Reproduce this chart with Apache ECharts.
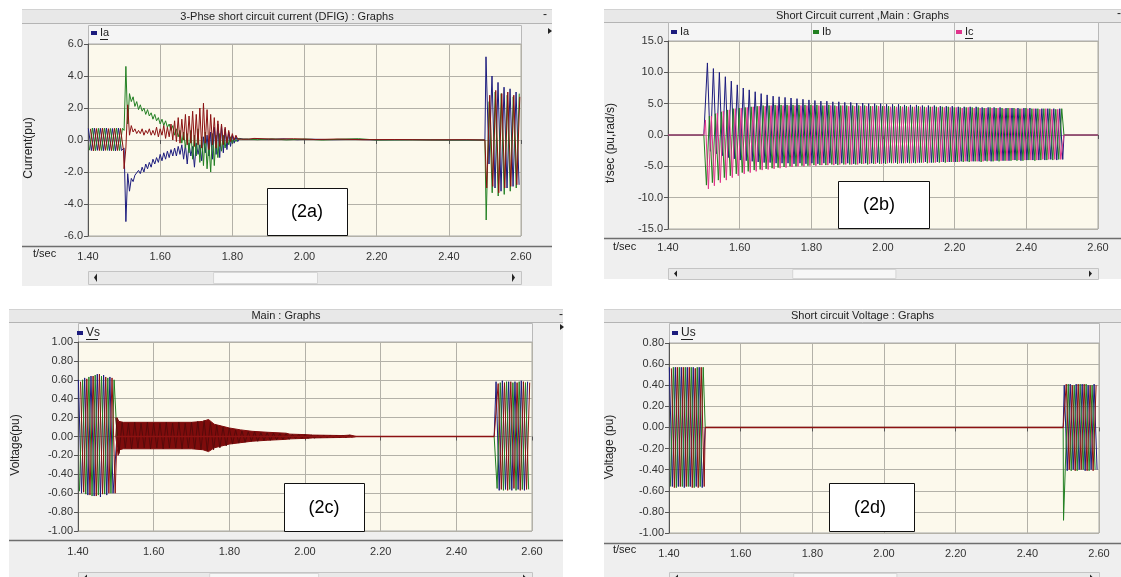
<!DOCTYPE html>
<html><head><meta charset="utf-8">
<script src="https://cdn.jsdelivr.net/npm/echarts@6/dist/echarts.min.js"></script>
<style>html,body{margin:0;padding:0;background:#fff}#c{width:1121px;height:577px}</style>
</head><body><div id="c"></div>
<script>
// ---------------- DATA ----------------
const H = 1 / 120;              // half period of the 60 Hz waveform (s)
const xTicks = ['1.40','1.60','1.80','2.00','2.20','2.40','2.60'];

// Panel (2a) 3-phase DFIG short-circuit current (pu)
const aPreIa = [0.72,-0.66,0.74,-0.65,0.73,-0.67,0.75,-0.66,0.72,-0.68,0.74,-0.66];
const aPreIb = [-0.64,0.75,-0.67,0.73,-0.66,0.74,-0.65,0.72,-0.67,0.75,-0.66,0.73];
const aPreIc = [0.70,-0.68,0.72,-0.66,0.74,-0.65,0.71,-0.67,0.73,-0.66,0.72,-0.64];
const aFaultStep = 0.005;       // fault transient samples from 1.500 s
const aFaultIa = [-0.5,-5.1,-2.1,-3.2,-2.4,-2.6,-2.2,-2.3,-1.9,-2.1,
  -1.7,-2.0,-1.5,-1.8,-1.4,-1.7,-1.2,-1.5,-1.1,-1.4,
  -0.9,-1.3,-0.8,-1.2,-0.7,-1.1,-0.6,-1.0,-0.5,-1.0,
  -0.4,-0.9,-0.3,-1.2,-0.3,-1.5,-0.2,-1.0,-0.4,-1.7,
  -0.2,-0.9,-0.3,-1.3,0.2,-0.8,0.3,-1.0,0.5,-1.2,
  0.8,-0.9,1.0,-1.1,0.9,-0.8,0.7,-0.6,0.5,-0.4,
  0.3,-0.2,0.2,-0.1,0.1,0.0,0.05,0.0,0.05,0.0,0.04];
const aFaultIb = [0.6,4.6,1.0,2.9,2.4,2.7,2.1,2.4,1.9,2.2,
  1.8,2.0,1.6,1.9,1.5,1.7,1.3,1.6,1.2,1.4,
  1.0,1.3,0.9,1.2,0.8,1.0,0.6,0.9,0.3,0.7,
  0.2,0.6,-0.2,0.5,-0.5,0.4,-0.8,0.6,-1.2,0.3,
  -1.0,0.7,-1.4,0.2,-1.6,0.5,-1.8,-0.2,-2.0,0.4,
  -1.6,0.3,-1.1,0.4,-0.7,0.3,-0.5,0.2,-0.3,0.2,
  -0.2,0.1,-0.1,0.1,0.0,0.05,0.0,0.05,0.0,0.05,0.02];
const aFaultIc = [-1.8,-0.5,2.2,0.3,0.9,0.5,0.7,0.4,0.6,0.4,
  0.7,0.3,0.6,0.4,0.7,0.3,0.6,0.3,0.8,0.2,
  0.7,0.3,0.9,0.1,0.8,0.2,1.0,0.0,1.2,-0.1,
  1.4,-0.2,1.3,0.0,1.6,-0.3,1.5,-0.2,1.8,-0.4,
  1.6,-0.3,2.0,-0.5,2.3,-0.2,1.9,-0.6,1.6,-0.3,
  1.4,-0.5,1.2,-0.4,1.0,-0.3,0.8,-0.2,0.6,-0.1,
  0.4,0.0,0.3,0.05,0.15,0.05,0.1,0.05,0.1,0.05,0.08];
const aFlatIa = [[1.87,0.06],[1.90,0.03],[1.94,0.07],[1.98,0.02],[2.02,0.05],[2.08,0.02],[2.14,0.04],[2.20,0.01],[2.30,0.02],[2.40,0.0],[2.50,0.0]];
const aFlatIb = [[1.87,0.02],[1.91,0.07],[1.95,0.01],[2.00,0.06],[2.05,0.0],[2.10,0.05],[2.15,0.08],[2.20,0.0],[2.30,0.01],[2.40,0.0],[2.50,0.0]];
const aFlatIc = [[1.86,0.10],[1.92,0.05],[1.97,0.08],[2.03,0.03],[2.09,0.06],[2.16,0.02],[2.25,0.03],[2.35,0.01],[2.45,0.02],[2.50,0.0]];
const aPostIa = [5.2,-1.5,4.0,-3.0,3.6,-3.2,3.3,-3.0,3.2,-2.9,3.0,-2.8];
const aPostIb = [-5.0,2.4,-3.3,3.0,-3.5,2.9,-3.4,2.8,-3.2,2.7,-3.0,2.9];
const aPostIc = [-3.0,2.8,-2.9,3.1,-3.3,2.9,-3.0,3.0,-2.9,2.8,-2.8,2.7];

// Panel (2b) short-circuit current, Main (pu)
const bFlatPre = [[1.40,0],[1.50,0]];
const bFlatPost = [[2.505,0],[2.60,0]];
const iaPeaks = [11.5,10.6,10.0,9.3,8.6,8.0,7.5,7.2,6.9,6.6,6.4,6.2,6.1,6.0,5.9,5.8,5.7,5.6,5.5,5.4,
  5.4,5.3,5.3,5.2,5.2,5.1,5.1,5.0,5.0,5.0,4.9,4.9,4.9,4.8,4.8,4.8,4.7,4.7,4.7,4.6,
  4.6,4.6,4.5,4.5,4.5,4.5,4.4,4.4,4.4,4.4,4.3,4.3,4.3,4.3,4.3,4.2,4.2,4.2,4.2,4.2];
const iaTroughs = [-2.6,-3.0,-3.3,-3.6,-3.8,-4.0,-4.1,-4.2,-4.3,-4.4,-4.4,-4.5,-4.5,-4.5,-4.6,-4.5,-4.6,-4.5,-4.6,-4.5,
  -4.5,-4.6,-4.5,-4.5,-4.6,-4.5,-4.5,-4.5,-4.4,-4.5,-4.4,-4.4,-4.5,-4.4,-4.4,-4.4,-4.3,-4.4,-4.3,-4.3,
  -4.3,-4.3,-4.2,-4.2,-4.2,-4.2,-4.1,-4.2,-4.1,-4.1,-4.1,-4.0,-4.1,-4.0,-4.0,-4.0,-4.0,-3.9,-4.0,-3.9];
const ibTroughs = [-8.0,-7.6,-7.2,-6.8,-6.5,-6.2,-6.0,-5.8,-5.6,-5.5,-5.4,-5.3,-5.2,-5.1,-5.0,-5.0,-4.9,-4.9,-4.8,-4.8,
  -4.8,-4.7,-4.8,-4.7,-4.7,-4.7,-4.6,-4.7,-4.6,-4.6,-4.6,-4.5,-4.6,-4.5,-4.5,-4.5,-4.4,-4.5,-4.4,-4.4,
  -4.4,-4.3,-4.3,-4.3,-4.3,-4.2,-4.3,-4.2,-4.2,-4.2,-4.1,-4.1,-4.1,-4.1,-4.0,-4.1,-4.0,-4.0,-4.0,-3.9];
const ibPeaks = [3.0,3.4,3.7,4.0,4.2,4.3,4.4,4.5,4.6,4.7,4.7,4.8,4.8,4.8,4.8,4.8,4.8,4.8,4.8,4.7,
  4.8,4.7,4.7,4.7,4.7,4.7,4.7,4.6,4.7,4.6,4.6,4.6,4.6,4.6,4.5,4.6,4.5,4.5,4.5,4.5,
  4.5,4.4,4.4,4.4,4.4,4.4,4.3,4.4,4.3,4.3,4.3,4.3,4.2,4.3,4.2,4.2,4.2,4.2,4.1,4.2];
const icPeaks = [2.4,3.0,3.5,3.8,4.0,4.2,4.3,4.4,4.5,4.6,4.6,4.7,4.7,4.7,4.7,4.7,4.7,4.7,4.7,4.7,
  4.7,4.7,4.6,4.7,4.6,4.6,4.6,4.6,4.6,4.6,4.6,4.5,4.5,4.5,4.5,4.5,4.5,4.4,4.5,4.4,
  4.4,4.4,4.4,4.3,4.4,4.3,4.3,4.3,4.3,4.3,4.2,4.3,4.2,4.2,4.2,4.2,4.1,4.2,4.1,4.1];
const icTroughs = [-8.6,-8.1,-7.6,-7.2,-6.8,-6.5,-6.2,-6.0,-5.8,-5.6,-5.5,-5.4,-5.3,-5.2,-5.1,-5.0,-5.0,-4.9,-4.9,-4.8,
  -4.8,-4.8,-4.7,-4.7,-4.7,-4.7,-4.6,-4.6,-4.6,-4.6,-4.5,-4.5,-4.5,-4.5,-4.5,-4.4,-4.4,-4.4,-4.4,-4.3,
  -4.3,-4.3,-4.3,-4.2,-4.2,-4.2,-4.2,-4.1,-4.1,-4.1,-4.1,-4.0,-4.0,-4.0,-4.0,-4.0,-3.9,-3.9,-3.9,-3.9];

// Panel (2c) Vs (pu)
const cPreVa = [0.60,-0.60,0.62,-0.62,0.64,-0.63,0.66,-0.64,0.65,-0.62,0.63,-0.60];
const cPreVb = [-0.58,0.60,-0.61,0.63,-0.63,0.65,-0.62,0.64,-0.61,0.62,-0.60,0.60];
const cPreVc = [0.58,-0.59,0.61,-0.62,0.64,-0.63,0.66,-0.61,0.63,-0.60,0.62,-0.60];
const cFlat = [[1.503,0],[2.50,0]];
const cBand = [0.20,-0.18,
  0.15,-0.12,0.14,-0.13,0.15,-0.12,0.14,-0.12,0.15,-0.13,0.14,-0.12,0.14,-0.13,0.15,-0.12,0.14,-0.12,0.15,-0.13,0.14,-0.12,0.15,-0.13,0.16,-0.14,
  0.17,-0.15,0.15,-0.14,0.12,-0.12,
  0.10,-0.10,0.09,-0.08,0.07,-0.07,
  0.06,-0.06,0.05,-0.05,0.05,-0.05,0.04,-0.04,
  0.04,-0.04,0.035,-0.035,0.03,-0.03,0.03,-0.03,
  0.02,-0.02,0.02,-0.02,0.02,-0.02,0.015,-0.015,
  0.01,-0.01,0.01,-0.01,0.01,-0.01,0.01,-0.01,0.01,-0.01,0.015,-0.01];
// envelope of the dense band after the fault (upper / lower edge)
const cBandTop = [[1.500,0],[1.503,0.20],[1.508,0.16],[1.52,0.15],[1.60,0.15],[1.70,0.15],[1.73,0.16],[1.745,0.18],[1.76,0.13],[1.78,0.11],[1.80,0.09],[1.83,0.07],[1.86,0.055],[1.90,0.045],[1.95,0.035],[1.96,0.025],[2.00,0.02],[2.02,0.015],[2.10,0.01],[2.12,0.015],[2.13,0.005],[2.135,0]];
const cBandBot = [[1.500,0],[1.506,-0.20],[1.51,-0.14],[1.52,-0.13],[1.60,-0.13],[1.70,-0.13],[1.73,-0.14],[1.745,-0.16],[1.76,-0.12],[1.78,-0.10],[1.80,-0.08],[1.83,-0.065],[1.86,-0.05],[1.90,-0.04],[1.95,-0.03],[1.96,-0.025],[2.00,-0.02],[2.02,-0.015],[2.10,-0.01],[2.13,-0.005],[2.135,0]];
const cPostVa = [0.58,-0.57,0.59,-0.56,0.58,-0.57,0.58,-0.56,0.59,-0.57,0.58];
const cPostVb = [-0.55,0.57,-0.57,0.58,-0.56,0.57,-0.57,0.58,-0.56,0.57,-0.56];
const cPostVc = [0.56,-0.56,0.57,-0.57,0.58,-0.55,0.57,-0.57,0.58,-0.56,0.57];

// Panel (2d) Us (pu)
const dPreUa = [0.57,-0.56,0.57,-0.56,0.57,-0.57,0.57,-0.56,0.57,-0.56,0.57,-0.57];
const dPreUb = [-0.56,0.57,-0.57,0.57,-0.56,0.57,-0.56,0.57,-0.57,0.57,-0.56,0.57];
const dPreUc = [0.56,-0.57,0.57,-0.56,0.57,-0.56,0.57,-0.57,0.56,-0.57,0.57,-0.56];
const dFlat = [[1.501,0],[2.50,0]];
const dSpike = [[2.501,-0.88]];
const dPostUa = [0.40,-0.41,0.41,-0.40,0.41,-0.40,0.41,-0.41,0.40,-0.40,0.41,-0.40];
const dPostUb = [-0.40,0.41,-0.41,0.40,-0.41,0.41,-0.40,0.41,-0.41,0.40,-0.40];
const dPostUc = [0.41,-0.40,0.40,-0.41,0.41,-0.40,0.41,-0.41,0.40,-0.41,0.40];

// ---------------- helpers ----------------
function seg(start, vals, step) { const s = step || H; return vals.map((v, i) => [+(start + i * s).toFixed(5), v]); }
function inter(a, b) { const o = []; for (let i = 0; i < a.length; i++) { o.push(a[i], b[i]); } return o; }

const NAVY = '#1c1c7e', GREEN = '#228022', MAROON = '#8c1212', PINK = '#e0348c', DARKRED = '#560a0a', BANDRED = '#7e0c0c';
const F = '"Liberation Sans", Arial, sans-serif';

function ln(name, data, color, gi, w, extra) {
  return Object.assign({ type: 'line', name, data, xAxisIndex: gi, yAxisIndex: gi, showSymbol: false, symbol: 'none',
    lineStyle: { color, width: w || 1 }, itemStyle: { color }, animation: false, silent: true, z: 2 }, extra || {});
}
const fill = { areaStyle: { origin: 0, color: BANDRED, opacity: 1 } };
const series = [
  ln('Ia', [...seg(1.401, aPreIa), ...seg(1.500, aFaultIa, aFaultStep), ...aFlatIa, ...seg(2.503, aPostIa)], NAVY, 0),
  ln('Ib (2a)', [...seg(1.4038, aPreIb), ...seg(1.500, aFaultIb, aFaultStep), ...aFlatIb, ...seg(2.5035, aPostIb)], GREEN, 0),
  ln('Ic (2a)', [...seg(1.4066, aPreIc), ...seg(1.500, aFaultIc, aFaultStep), ...aFlatIc, ...seg(2.505, aPostIc)], MAROON, 0),

  ln('Ia (2b)', [...bFlatPre, ...seg(1.510, inter(iaPeaks, iaTroughs)), ...bFlatPost], NAVY, 1),
  ln('Ib', [...bFlatPre, ...seg(1.5072, inter(ibTroughs, ibPeaks)), ...bFlatPost], GREEN, 1),
  ln('Ic', [...bFlatPre, ...seg(1.5044, inter(icPeaks, icTroughs)), ...bFlatPost], PINK, 1),

  ln('Vs', [...seg(1.401, cPreVa), ...cFlat, ...seg(2.505, cPostVa)], NAVY, 2),
  ln('Vs b', [...seg(1.4038, cPreVb), ...cFlat, ...seg(2.5078, cPostVb)], GREEN, 2),
  ln('Vs band top', cBandTop, BANDRED, 2, 1, fill),
  ln('Vs band bottom', cBandBot, BANDRED, 2, 1, fill),
  ln('Vs band', seg(1.500, cBand), DARKRED, 2, 1),
  ln('Vs c', [...seg(1.4066, cPreVc), ...cFlat, ...seg(2.5106, cPostVc)], MAROON, 2),
  ln('Vs zero', cFlat, MAROON, 2, 1.5),

  ln('Us', [...seg(1.401, dPreUa), ...dFlat, ...seg(2.503, dPostUa)], NAVY, 3),
  ln('Us b', [...seg(1.4038, dPreUb), ...dFlat, ...dSpike, ...seg(2.5058, dPostUb)], GREEN, 3),
  ln('Us c', [...seg(1.4066, dPreUc), ...dFlat, ...seg(2.5086, dPostUc)], MAROON, 3),
  ln('Us zero', dFlat, MAROON, 3, 1.5)
];

// ---------------- layout ----------------
const grids = [
  { left: 88, top: 44, width: 433, height: 192 },
  { left: 668, top: 41, width: 430, height: 188 },
  { left: 78, top: 342, width: 454, height: 189 },
  { left: 669, top: 343, width: 430, height: 190 }
].map(g => Object.assign(g, { show: true, backgroundColor: '#fcf9ec', borderColor: '#a8a8a8', borderWidth: 1 }));

const gridLine = { show: true, lineStyle: { color: '#b3b1a8', width: 1 } };
function xA(gi, offset, margin) {
  return { type: 'value', gridIndex: gi, min: 1.4, max: 2.6, interval: 0.2, offset,
    axisLine: { show: false }, axisTick: { show: true, length: 4, lineStyle: { color: '#555' } },
    axisLabel: { margin, fontSize: 11, color: '#333', fontFamily: F,
      formatter: v => xTicks[Math.round((v - 1.4) / 0.2)] || v.toFixed(2) },
    splitLine: gridLine };
}
function yA(gi, min, max, interval, dec) {
  return { type: 'value', gridIndex: gi, min, max, interval,
    axisLine: { show: true, onZero: false, lineStyle: { color: '#555' } },
    axisTick: { show: true, length: 4, lineStyle: { color: '#555' } },
    axisLabel: { margin: 5, fontSize: 11, color: '#333', fontFamily: F, formatter: v => v.toFixed(dec) },
    splitLine: gridLine };
}

// ---------------- decorations ----------------
const els = [];
function R(x, y, w, h, fill, stroke, z) { els.push({ type: 'rect', z: z, silent: true, shape: { x, y, width: w, height: h }, style: { fill: fill, stroke: stroke || null, lineWidth: 1 } }); }
function L(x1, y1, x2, y2, stroke, w, z) { els.push({ type: 'line', z: z, silent: true, shape: { x1, y1, x2, y2 }, style: { stroke, lineWidth: w } }); }
function T(x, y, text, size, align, z, rot, color) {
  els.push({ type: 'text', z: z, silent: true, x, y, rotation: rot || 0,
    style: { text, x: 0, y: 0, font: size + 'px ' + F, fill: color || '#222', textAlign: align, textVerticalAlign: 'middle', align: align, verticalAlign: 'middle' } });
}
function P(points, fill, z) { els.push({ type: 'polygon', z: z, silent: true, shape: { points }, style: { fill } }); }

const panels = [
  { fx: 22, fy: 9, fw: 530, fh: 277, tb: 14, title: '3-Phse short circuit current (DFIG) : Graphs',
    lx: 88, ly: 25, lw: 433, lh: 19, axY: 246, scY: 271, scH: 13, gx: 88, gw: 433 },
  { fx: 604, fy: 9, fw: 517, fh: 270, tb: 13, title: 'Short Circuit current ,Main : Graphs',
    lx: 668, ly: 22, lw: 430, lh: 19, axY: 238, scY: 268, scH: 11, gx: 668, gw: 430 },
  { fx: 9, fy: 309, fw: 554, fh: 268, tb: 13, title: 'Main : Graphs',
    lx: 78, ly: 323, lw: 454, lh: 19, axY: 540, scY: 572, scH: 11, gx: 78, gw: 454 },
  { fx: 604, fy: 309, fw: 517, fh: 268, tb: 13, title: 'Short circuit Voltage : Graphs',
    lx: 669, ly: 323, lw: 430, lh: 20, axY: 543, scY: 572, scH: 11, gx: 669, gw: 430 }
];
panels.forEach(p => {
  R(p.fx, p.fy, p.fw, p.fh, '#efefef', null, -5);
  R(p.fx, p.fy, p.fw, p.tb, '#e8e8e8', null, -4);
  L(p.fx, p.fy + 0.5, p.fx + p.fw, p.fy + 0.5, '#d2d2d2', 1, -3);
  L(p.fx, p.fy + p.tb + 0.5, p.fx + p.fw, p.fy + p.tb + 0.5, '#b4b4b4', 1, -3);
  T(p.fx + p.fw / 2, p.fy + p.tb / 2 + 0.5, p.title, 11, 'center', -2);
  R(p.lx + 0.5, p.ly + 0.5, p.lw, p.lh, '#f5f5f5', '#b9b9b9', -3);
  L(p.fx, p.axY + 0.5, p.fx + p.fw, p.axY + 0.5, '#6e6e6e', 1.5, 5);
  R(p.gx + 0.5, p.scY + 0.5, p.gw, p.scH, '#e9e9e9', '#c4c4c4', -3);
  R(p.gx + p.gw * 0.29, p.scY + 1.5, p.gw * 0.24, p.scH - 2, '#f7f7f7', '#d6d6d6', -2);
  P([[p.gx + 6, p.scY + p.scH / 2], [p.gx + 9, p.scY + 2.5], [p.gx + 9, p.scY + p.scH - 2]], '#222', -1);
  P([[p.gx + p.gw - 6, p.scY + p.scH / 2], [p.gx + p.gw - 9, p.scY + 2.5], [p.gx + p.gw - 9, p.scY + p.scH - 2]], '#222', -1);
});
// legend bar cell separators (2b)
L(811.5, 22, 811.5, 41, '#b9b9b9', 1, -2);
L(954.5, 22, 954.5, 41, '#b9b9b9', 1, -2);
// legend entries
function LG(x, y, color, label, underline, size) {
  R(x, y - 2, 6, 4, color, null, -1);
  T(x + 9, y, label, size || 11, 'left', -1);
  if (underline) L(x + 9, y + 6.5, x + 9 + underline, y + 6.5, '#222', 1, -1);
}
LG(91, 33, NAVY, 'Ia', 8);
LG(671, 32, NAVY, 'Ia', 0);
LG(813, 32, GREEN, 'Ib', 0);
LG(956, 32, PINK, 'Ic', 8);
LG(77, 333, NAVY, 'Vs', 12, 12);
LG(672, 333, NAVY, 'Us', 12, 12);
// small window controls
T(545, 15, '-', 12, 'center', -1);
P([[548, 28], [552, 31], [548, 34]], '#222', -1);
T(561, 315, '-', 12, 'center', -1);
P([[560, 324], [564, 327], [560, 330]], '#222', -1);
T(1119, 14, '-', 12, 'center', -1);
// axis titles
T(29, 148, 'Current(pu)', 12, 'center', -1, Math.PI / 2);
T(611, 143, 't/sec (pu,rad/s)', 12, 'center', -1, Math.PI / 2);
T(16, 445, 'Voltage(pu)', 12, 'center', -1, Math.PI / 2);
T(610, 447, 'Voltage (pu)', 12, 'center', -1, Math.PI / 2);
T(33, 254, 't/sec', 11, 'left', -1);
T(613, 247, 't/sec', 11, 'left', -1);
T(613, 550, 't/sec', 11, 'left', -1);
// panel caption boxes
function BOX(x, y, w, h, label, tx) {
  R(x + 0.5, y + 0.5, w, h, '#ffffff', '#111111', 50);
  T(tx, y + h / 2 + 1, label, 18, 'center', 51, 0, '#000');
}
BOX(267, 188, 80, 47, '(2a)', 307);
BOX(838, 181, 91, 47, '(2b)', 879);
BOX(284, 483, 80, 48, '(2c)', 324);
BOX(829, 483, 85, 48, '(2d)', 870);

const chart = echarts.init(document.getElementById('c'), null, { renderer: 'canvas' });
chart.setOption({
  animation: false,
  backgroundColor: '#ffffff',
  textStyle: { fontFamily: F },
  grid: grids,
  xAxis: [xA(0, 10, 5), xA(1, 9, 4), xA(2, 9, 6), xA(3, 10, 5)],
  yAxis: [yA(0, -6, 6, 2, 1), yA(1, -15, 15, 5, 1), yA(2, -1, 1, 0.2, 2), yA(3, -1, 0.8, 0.2, 2)],
  series,
  graphic: { elements: els }
});
</script></body></html>
